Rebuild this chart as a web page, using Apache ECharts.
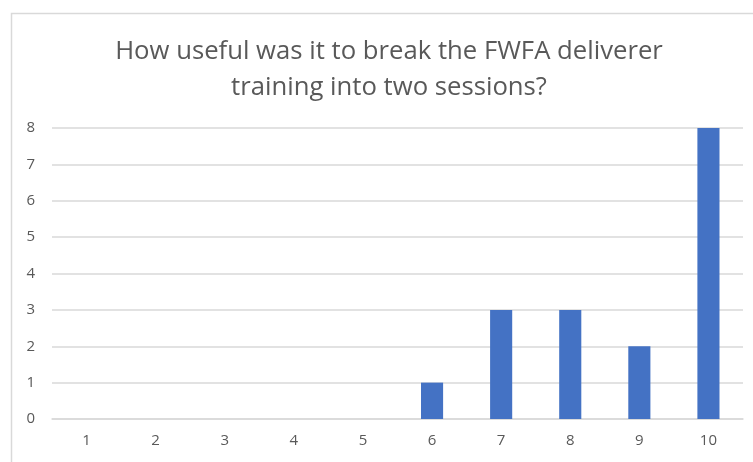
<!DOCTYPE html>
<html>
<head>
<meta charset="utf-8">
<script src="https://cdn.jsdelivr.net/npm/echarts@6/dist/echarts.min.js"></script>
<style>
  html, body { margin: 0; padding: 0; background: #fff; }
  #main { width: 753px; height: 462px; }
</style>
</head>
<body>
<div id="main"></div>
<script>
// 评分分布
var categories = ['1', '2', '3', '4', '5', '6', '7', '8', '9', '10'];
var counts = [0, 0, 0, 0, 0, 1, 3, 3, 2, 8];
var yTicks = { min: 0, max: 8, interval: 1 };
var titleText = 'How useful was it to break the FWFA deliverer\ntraining into two sessions?';

var myChart = echarts.init(document.getElementById('main'));
myChart.setOption({
    animation: false,
    backgroundColor: '#ffffff',
    textStyle: { fontFamily: '"Open Sans", sans-serif' },
    graphic: [{
        type: 'rect',
        shape: { x: 11.5, y: 13.5, width: 800, height: 500 },
        style: { fill: 'none', stroke: '#d9d9d9', lineWidth: 1.5 },
        silent: true
    }],
    title: {
        text: titleText,
        left: 384,
        textAlign: 'center',
        top: 29,
        textStyle: {
            color: '#595959',
            fontSize: 25.7,
            fontWeight: 'normal',
            lineHeight: 36,
            fontFamily: '"Open Sans", sans-serif'
        }
    },
    grid: { left: 52, right: 10, top: 128, bottom: 43 },
    xAxis: {
        type: 'category',
        data: categories,
        axisLine: { show: true, lineStyle: { color: '#d9d9d9', width: 1.5 } },
        axisTick: { show: false },
        axisLabel: { color: '#595959', fontSize: 15, margin: 14 }
    },
    yAxis: {
        type: 'value',
        min: yTicks.min,
        max: yTicks.max,
        interval: yTicks.interval,
        axisLine: { show: false },
        axisTick: { show: false },
        axisLabel: { color: '#595959', fontSize: 15, margin: 17 },
        splitLine: { lineStyle: { color: '#d9d9d9', width: 1.5 } }
    },
    series: [{
        type: 'bar',
        data: counts,
        barWidth: '32%',
        itemStyle: { color: '#4472c4' }
    }]
});
</script>
</body>
</html>
